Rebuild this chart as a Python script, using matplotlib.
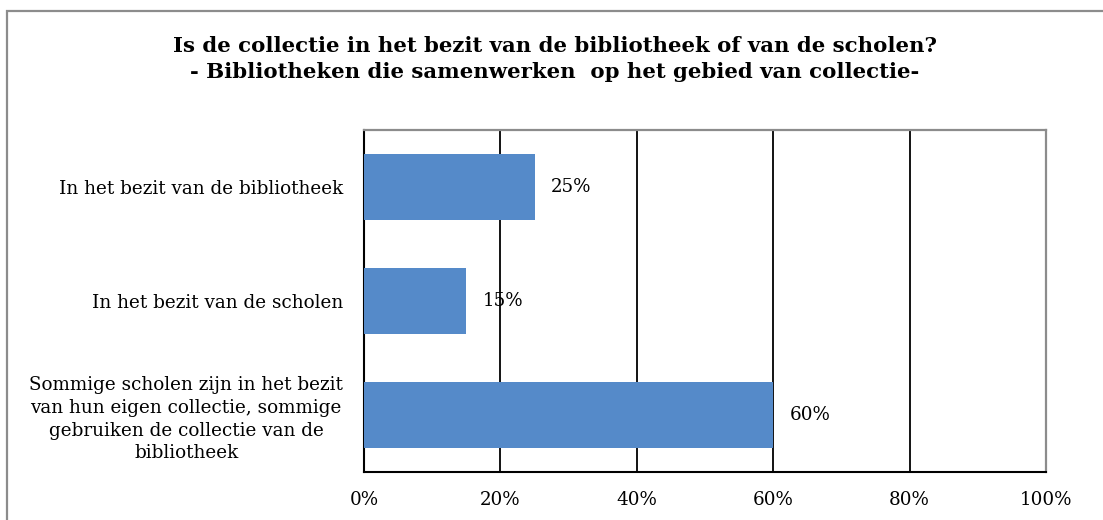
import matplotlib.pyplot as plt
from matplotlib.patches import Rectangle
from matplotlib.ticker import PercentFormatter

categories = [
    "In het bezit van de bibliotheek",
    "In het bezit van de scholen",
    "Sommige scholen zijn in het bezit\nvan hun eigen collectie, sommige\ngebruiken de collectie van de\nbibliotheek",
]
values = [25, 15, 60]
xticks = [0, 20, 40, 60, 80, 100]

title = ("Is de collectie in het bezit van de bibliotheek of van de scholen?\n"
         "- Bibliotheken die samenwerken  op het gebied van collectie-")

plt.rcParams['font.family'] = ['DejaVu Serif']

fig = plt.figure(figsize=(11.03, 5.20), dpi=100)
W, H = 1103, 520

# outer chart border (runs off the right and bottom edge)
fig.patches.append(Rectangle((7 / W, -0.1), 1.2, 1 - 11 / H + 0.1,
                             transform=fig.transFigure, fill=False,
                             edgecolor='#8c8c8c', linewidth=1.6))

ax = fig.add_axes([364 / W, 1 - 472 / H, (1046 - 364) / W, (472 - 130) / H])

y = list(range(len(categories)))
bars = ax.barh(y, values, height=0.58, color='#558ac9', zorder=3)

ax.set_xlim(0, 100)
ax.set_ylim(len(categories) - 0.5, -0.5)
ax.set_xticks(xticks)
ax.xaxis.set_major_formatter(PercentFormatter(decimals=0))
ax.set_yticks(y)
ax.set_yticklabels(categories, ma='center', linespacing=1.33)
ax.tick_params(axis='x', length=0, pad=14, labelsize=13.2)
ax.tick_params(axis='y', length=0, pad=15, labelsize=13.2)

for gx in xticks[1:-1]:
    ax.axvline(gx, color='black', linewidth=1.3, zorder=2)

for s in ['left', 'bottom']:
    ax.spines[s].set_color('black')
    ax.spines[s].set_linewidth(1.5)
for s in ['top', 'right']:
    ax.spines[s].set_color('#8c8c8c')
    ax.spines[s].set_linewidth(1.6)

for b, v in zip(bars, values):
    ax.annotate(f"{v}%", (b.get_width(), b.get_y() + b.get_height() / 2),
                xytext=(12, 0), textcoords='offset points',
                va='center', ha='left', fontsize=13.2, zorder=4)

fig.text(0.503, 1 - 59 / H, title, ha='center', va='center',
         fontsize=15.3, fontweight='bold', linespacing=1.35)

fig.savefig('out.png', dpi=100)
